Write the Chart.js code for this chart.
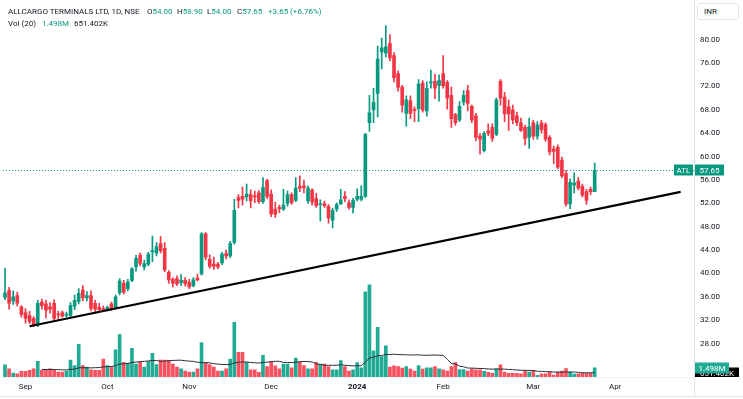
<!DOCTYPE html>
<html>
<head>
<title>ALLCARGO TERMINALS LTD, 1D, NSE</title>
<script src="https://cdn.jsdelivr.net/npm/chart.js@4.4.1/dist/chart.umd.min.js"></script>
<style>
body { margin:0; background:#fff; font-family: Roboto, "Liberation Sans", sans-serif; }
#wrap { position:relative; width:743px; height:399px; overflow:hidden; }
#c { position:absolute; left:0; top:0; }
.hd { position:absolute; font-size:8px; line-height:10px; color:#131722; white-space:nowrap; }
.up { color:#089981; }
#inr { position:absolute; left:697px; top:3px; width:42px; height:17px; border:1px solid #e0e3eb; border-radius:3px;
  box-sizing:border-box; font-size:8px; line-height:15px; padding-left:6px; color:#131722; background:#fff; }
#vline { position:absolute; left:694px; top:0; width:1px; height:396px; background:#e0e3eb; }
#hline { position:absolute; left:0; top:396px; width:743px; height:1px; background:#e0e3eb; }
</style>
</head>
<body>
<div id="wrap">
<canvas id="c" width="743" height="399"></canvas>
<div id="vline"></div>
<div id="hline"></div>
<div class="hd" style="left:8px; top:7px;">ALLCARGO TERMINALS LTD, 1D, NSE</div>
<div class="hd" style="left:147px; top:7px;">O<span class="up">54.00</span></div>
<div class="hd" style="left:177px; top:7px;">H<span class="up">58.90</span></div>
<div class="hd" style="left:207px; top:7px;">L<span class="up">54.00</span></div>
<div class="hd" style="left:237px; top:7px;">C<span class="up">57.65</span></div>
<div class="hd up" style="left:268px; top:7px;">+3.65 (+6.76%)</div>
<div class="hd" style="left:8px; top:19px;">Vol (20)</div>
<div class="hd up" style="left:42px; top:19px;">1.498M</div>
<div class="hd" style="left:74px; top:19px;">651.402K</div>
<div id="inr">INR</div>
</div>
<script>
// daily candles, first bar ~ 25 Aug 2023, last bar 22 Mar 2024
var open = [35.9,37.1,35.3,36.2,34.3,33.3,32.8,32.3,31.1,35.1, 34.8,34.3,34.9,33.1,33.3,32.8,32.8,34.4,35.2,37.2,
  35.8,36.2,34.9,34.2,34.0,33.9,34.8,34.2,36.7,38.3, 37.4,38.8,41.1,43.1,41.1,41.6,43.7,43.5,45.1,44.3,
  40.2,39.0,39.1,38.4,38.8,38.5,37.9,39.2,39.9,46.8, 42.4,41.6,41.6,41.8,43.4,43.0,45.3,53.0,53.2,53.1,
  53.5,53.3,53.8,52.3,55.9,53.6,51.0,51.3,51.0,52.0, 53.5,52.5,54.9,55.0,52.4,54.3,52.8,51.8,51.9,51.5,
  49.1,51.0,51.9,53.2,52.1,51.3,52.7,52.7,53.2,65.8, 68.0,70.8,77.9,77.7,79.4,77.3,74.2,71.9,67.4,69.6,
  68.0,68.2,72.6,67.8,72.6,72.9,72.2,74.2,72.7,70.5, 67.2,66.3,69.3,71.3,68.6,67.0,63.5,61.0,64.4,65.0,
  63.8,72.9,70.2,68.5,68.0,67.0,65.8,65.0,63.3,65.8, 63.5,65.8,65.5,63.3,61.3,61.6,59.4,57.1,51.9,55.1,
  55.8,54.9,54.0,54.4,54.0];
var high = [40.9,37.6,37.0,36.8,34.5,34.0,33.5,32.6,35.4,35.6, 35.4,35.0,35.5,33.5,33.6,33.4,35.0,36.3,37.4,37.9,
  36.9,37.0,35.4,34.9,34.4,34.4,35.1,36.3,39.1,38.8, 39.0,41.0,43.1,43.5,42.3,43.6,46.4,45.3,46.3,45.3,
  40.5,39.3,39.6,39.8,39.3,39.0,39.3,39.9,47.0,47.0, 43.2,42.8,41.9,43.6,44.0,45.5,52.7,53.5,54.8,55.3,
  54.3,54.1,54.2,56.4,56.1,54.3,52.2,51.7,54.4,54.1, 53.8,56.4,56.7,56.0,55.0,54.5,53.7,52.6,52.4,51.8,
  51.2,52.1,54.4,54.0,52.6,52.9,54.5,55.0,64.0,70.5, 71.7,78.9,80.3,82.4,80.9,77.8,74.7,72.2,70.4,70.4,
  68.5,73.2,73.0,72.8,74.8,74.1,74.0,77.3,73.0,71.9, 67.4,69.4,71.3,72.2,68.8,67.4,64.0,64.3,65.6,65.6,
  70.0,73.2,71.0,69.7,68.8,67.6,66.6,65.4,66.6,66.2, 66.0,66.2,65.8,63.6,61.8,62.0,59.9,57.6,56.2,57.2,
  56.4,55.3,54.4,54.8,58.9];
var low = [35.5,33.9,34.7,34.4,32.5,31.5,31.4,30.9,30.9,33.9, 32.4,33.2,31.8,32.2,32.5,32.5,32.5,33.8,34.8,35.3,
  35.3,33.6,33.3,33.5,33.5,33.6,33.7,34.0,36.3,36.5, 37.0,38.6,40.4,41.3,40.6,41.3,42.0,43.0,43.5,40.3,
  38.3,37.7,37.9,37.9,37.8,37.4,37.7,38.7,39.7,42.3, 40.9,40.7,40.8,41.5,42.5,42.7,45.0,51.2,51.7,52.4,
  51.2,52.1,52.0,52.0,52.8,49.7,49.6,50.4,50.8,51.5, 51.8,52.3,54.0,53.8,52.0,51.7,51.3,49.0,51.3,48.6,
  47.8,50.6,51.8,52.3,51.0,50.3,52.4,52.4,53.0,64.3, 65.8,66.8,75.0,77.0,76.4,72.8,71.2,67.6,65.2,66.5,
  66.0,66.0,67.6,66.9,71.7,69.9,69.5,71.7,68.1,65.0, 65.4,66.0,68.8,67.8,65.8,62.7,60.4,60.8,63.6,62.6,
  63.6,68.8,66.0,64.5,65.6,65.3,64.3,62.0,61.4,63.0, 63.0,64.0,62.6,60.3,58.8,57.9,56.4,51.5,51.1,53.8,
  54.3,53.1,51.8,53.5,54.0];
var close = [36.7,34.9,36.0,34.9,33.0,32.3,31.8,31.1,34.9,34.5, 33.7,33.9,32.3,32.9,32.7,33.0,34.5,35.4,36.6,35.8,
  36.2,34.0,33.9,33.8,33.8,34.2,33.9,36.0,38.7,36.8, 38.5,40.8,42.6,41.7,41.7,43.3,43.9,44.6,43.9,40.6,
  38.9,38.3,38.2,38.8,38.2,37.7,38.9,38.9,46.8,42.8, 41.2,41.2,41.1,43.3,43.0,45.1,50.8,52.5,52.7,53.6,
  52.4,53.1,52.3,54.7,53.2,50.2,50.1,51.1,51.7,53.5, 52.1,54.6,54.6,54.7,54.6,52.2,51.6,51.9,51.6,49.5,
  50.8,51.8,52.6,52.8,51.3,52.5,53.2,53.2,63.8,67.5, 69.3,76.7,78.6,78.8,76.9,73.5,71.9,68.8,69.7,67.4,
  67.9,72.4,68.0,71.7,72.8,71.7,73.0,72.1,70.0,66.5, 65.8,68.6,70.5,69.1,66.3,63.3,63.0,64.0,64.0,63.1,
  69.7,70.0,67.3,67.3,66.3,65.8,64.5,63.1,65.1,63.5, 65.4,64.6,63.0,60.8,60.9,58.2,56.7,51.9,55.6,55.5,
  54.6,53.4,52.5,54.0,57.65];
// volume in millions
var volume = [1.96,1.32,0.64,0.52,0.91,0.91,1.07,1.32,2.54,1.07, 1.16,1.32,1.07,0.80,0.80,0.95,2.75,1.86,5.29,1.86,
  1.59,1.16,1.07,1.07,2.91,1.86,1.59,4.40,6.88,2.39, 2.23,4.66,2.11,2.39,1.59,2.50,3.82,2.02,2.75,2.75,
  2.66,2.11,1.59,1.32,0.95,0.80,0.80,1.32,5.57,2.39, 2.02,1.59,0.95,0.95,1.32,2.91,8.86,3.98,3.98,2.39,
  1.16,1.16,0.75,3.50,1.70,2.50,1.80,1.32,2.11,2.11, 1.48,3.07,2.39,1.86,1.32,1.32,2.39,2.11,2.11,1.70,
  1.16,1.16,2.66,1.70,0.95,1.16,2.34,1.48,13.79,14.95, 4.25,8.06,3.29,5.04,1.59,1.80,1.70,1.43,1.70,1.27,
  0.95,1.86,1.27,1.48,1.48,1.70,1.32,1.16,0.95,1.70, 2.34,1.22,1.22,0.95,1.32,1.16,1.16,0.91,0.75,0.59,
  1.32,1.96,0.80,0.59,0.59,0.59,0.52,0.95,0.80,1.07, 0.27,0.52,0.52,0.80,0.32,0.80,0.95,1.38,0.80,0.48,
  0.52,0.59,0.59,0.59,1.498];

var slots = 169;                 // bars incl. empty future space
var monthIdx = [5, 25, 45, 65, 86, 107, 129, 149];
var monthNames = ['Sep', 'Oct', 'Nov', 'Dec', '2024', 'Feb', 'Mar', 'Apr'];
var priceTicks = [28, 32, 36, 40, 44, 48, 52, 56, 60, 64, 68, 72, 76, 80];
var trendIdx = [6, 165];
var trendVal = [30.96, 53.97];
var maLen = 20, maFirst = 9;
var volMA20Label = '651.402K';

var UP = '#089981', DN = '#f23645';
var labels = [];
for (var i = 0; i < slots; i++) labels.push(String(i));

var wick = [], body = [], cCol = [], vCol = [], ma = [], trend = [];
for (var i = 0; i < open.length; i++) {
  wick.push([low[i], high[i]]);
  body.push([open[i], close[i]]);
  var up = close[i] >= open[i];
  cCol.push(up ? UP : DN);
  vCol.push(up ? '#22ab94' : '#f7525f');
  if (i < maFirst) { ma.push(null); continue; }
  var w = volume.slice(Math.max(0, i - maLen + 1), i + 1);
  ma.push(w.reduce(function (a, b) { return a + b; }, 0) / w.length);
}
for (var i = 0; i < slots; i++) trend.push(null);
trend[trendIdx[0]] = trendVal[0];
trend[trendIdx[1]] = trendVal[1];

var lastClose = close[close.length - 1];
var lastVol = volume[volume.length - 1];

function tag(ctx, x, y, w, txt, bg) {
  ctx.fillStyle = bg;
  ctx.fillRect(x, Math.round(y) - 5.5, w, 11);
  ctx.fillStyle = '#fff';
  ctx.font = '8px Roboto';
  ctx.textBaseline = 'middle';
  ctx.textAlign = 'center';
  ctx.fillText(txt, x + w / 2, Math.round(y) + 0.5);
}

var overlay = {
  id: 'overlay',
  beforeDatasetsDraw: function (chart) {
    var ctx = chart.ctx, a = chart.chartArea;
    var y = Math.round(chart.scales.y.getPixelForValue(lastClose)) + 0.5;
    ctx.save();
    ctx.strokeStyle = UP;
    ctx.lineWidth = 1;
    ctx.setLineDash([1, 2]);
    ctx.beginPath(); ctx.moveTo(a.left, y); ctx.lineTo(a.right, y); ctx.stroke();
    ctx.restore();
  },
  afterDraw: function (chart) {
    var ctx = chart.ctx, a = chart.chartArea;
    var yP = chart.scales.y.getPixelForValue(lastClose);
    var yV = chart.scales.y2.getPixelForValue(lastVol);
    var yM = chart.scales.y2.getPixelForValue(ma[ma.length - 1]);
    ctx.save();
    tag(ctx, a.right - 21, yP, 19, 'ATL', UP);
    tag(ctx, a.right, yP, 29, lastClose.toFixed(2), UP);
    ctx.beginPath(); ctx.rect(a.right, 0, 60, a.bottom); ctx.clip();
    tag(ctx, a.right, yM, 44, volMA20Label, '#000');
    tag(ctx, a.right, yV, 34, lastVol.toFixed(3) + 'M', '#22ab94');
    ctx.restore();
  }
};

new Chart(document.getElementById('c'), {
  type: 'bar',
  data: {
    labels: labels,
    datasets: [
      { type: 'line', data: trend, yAxisID: 'y', spanGaps: true, borderColor: '#000', borderWidth: 2.2,
        pointRadius: 0, order: 1 },
      { data: body, yAxisID: 'y', backgroundColor: cCol, barThickness: 3, minBarLength: 1, grouped: false, order: 2 },
      { data: wick, yAxisID: 'y', backgroundColor: cCol, barThickness: 1, grouped: false, order: 3 },
      { type: 'line', data: ma, yAxisID: 'y2', borderColor: '#2a2e39', borderWidth: 1, pointRadius: 0, order: 4 },
      { data: volume, yAxisID: 'y2', backgroundColor: vCol, barThickness: 3, grouped: false, order: 5 }
    ]
  },
  options: {
    responsive: false,
    animation: false,
    layout: { padding: { top: 3, left: 0, right: 0, bottom: 0 } },
    plugins: { legend: { display: false }, tooltip: { enabled: false } },
    scales: {
      x: {
        grid: { display: false, drawTicks: false },
        border: { display: true, color: '#f0f3fa' },
        afterFit: function (s) { s.height = 22; },
        ticks: {
          autoSkip: false, maxRotation: 0, padding: 5, color: '#131722',
          callback: function (v, i) { var k = monthIdx.indexOf(i); return k < 0 ? '' : monthNames[k]; },
          font: function (c) { return { family: 'Roboto', size: 8, weight: c.index === monthIdx[4] ? 'bold' : 'normal' }; }
        }
      },
      y: {
        position: 'right', min: 22.27, max: 85.13,
        grid: { display: false, drawTicks: false },
        border: { display: false },
        afterFit: function (s) { s.width = 48; },
        afterBuildTicks: function (s) { s.ticks = priceTicks.map(function (v) { return { value: v }; }); },
        ticks: { padding: 5, color: '#131722', font: { family: 'Roboto', size: 8 },
          callback: function (v) { return Number(v).toFixed(2); } }
      },
      y2: { display: false, min: 0, max: 59.5 }
    }
  },
  plugins: [overlay]
});
</script>
</body>
</html>
